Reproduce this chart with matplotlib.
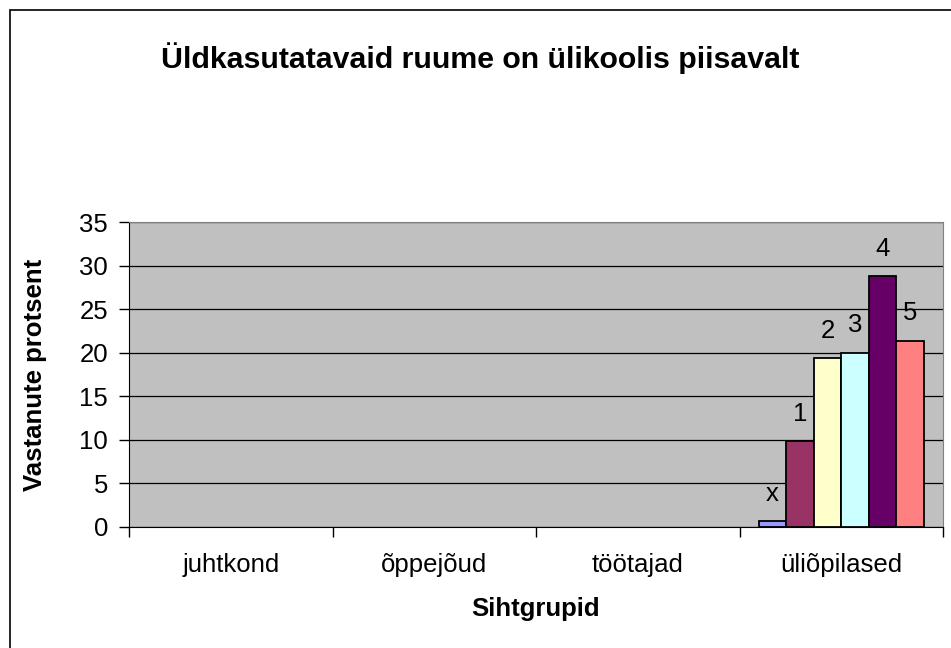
import matplotlib
matplotlib.use("Agg")
import matplotlib.pyplot as plt
import numpy as np
from matplotlib.patches import Rectangle

plt.rcParams['font.family'] = ['Liberation Sans', 'DejaVu Sans']

categories = ["juhtkond", "õppejõud", "töötajad", "üliõpilased"]
series_names = ["x", "1", "2", "3", "4", "5"]
values = {
    "x": [0, 0, 0, 0.65],
    "1": [0, 0, 0, 9.85],
    "2": [0, 0, 0, 19.35],
    "3": [0, 0, 0, 20.0],
    "4": [0, 0, 0, 28.8],
    "5": [0, 0, 0, 21.4],
}
colors = ["#9999FF", "#993366", "#FFFFCC", "#CCFFFF", "#660066", "#FF8080"]
yticks = [0, 5, 10, 15, 20, 25, 30, 35]

W, H = 951, 648
fig = plt.figure(figsize=(W / 100, H / 100), dpi=100)
fig.patch.set_facecolor("white")

# outer chart border
fig.patches.append(Rectangle((10 / W, -0.1), 1.2, (H - 10) / H + 0.1, transform=fig.transFigure,
                             fill=False, edgecolor="black", linewidth=1.2))

left, right, top, bottom = 129, 943, 222, 527
ax = fig.add_axes([left / W, 1 - bottom / H, (right - left) / W, (bottom - top) / H])
ax.set_facecolor("#C0C0C0")

FS = 18.5
n = len(series_names)
group = 0.81
bw = group / n
x = np.arange(len(categories))
for i, (name, c) in enumerate(zip(series_names, colors)):
    vals = values[name]
    pos = x - group / 2 + bw * (i + 0.5)
    mask = np.array(vals) > 0
    bars = ax.bar(pos[mask], np.array(vals)[mask], width=bw, color=c, edgecolor="black",
                  linewidth=1.3, zorder=3)
    ax.bar_label(bars, labels=[name] * int(mask.sum()), padding=11, fontsize=FS, zorder=4)

ax.set_xlim(-0.5, len(categories) - 0.5)
ax.set_ylim(0, 35)
ax.set_yticks(yticks)
ax.set_yticklabels([str(t) for t in yticks], fontsize=FS)
ax.yaxis.grid(True, color="black", linewidth=0.9, zorder=1)
ax.set_axisbelow(True)

ax.set_xticks(np.arange(-0.5, len(categories) + 0.5, 1.0), minor=False)
ax.set_xticklabels([])
ax.set_xticks(x, minor=True)
ax.set_xticklabels(categories, minor=True, fontsize=FS)
ax.tick_params(axis="x", which="minor", length=0, pad=19)
ax.tick_params(axis="x", which="major", length=7, width=1, color="black", direction="out")
ax.tick_params(axis="y", length=7, width=1, direction="out", pad=8)

for s in ["top", "right"]:
    ax.spines[s].set_visible(True)
    ax.spines[s].set_color("#808080")
ax.spines["left"].set_color("black")
ax.spines["bottom"].set_color("black")

ax.set_ylabel("Vastanute protsent", fontsize=18.5, fontweight="bold", labelpad=23)
ax.set_xlabel("Sihtgrupid", fontsize=18.5, fontweight="bold", labelpad=14)

fig.text(480 / W, 1 - 58 / H, "Üldkasutatavaid ruume on ülikoolis piisavalt",
         ha="center", va="center", fontsize=21.8, fontweight="bold")

fig.savefig("out.png", dpi=100)
